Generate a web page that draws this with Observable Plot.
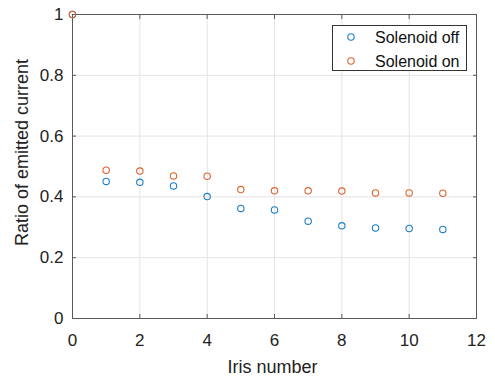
<!DOCTYPE html>
<html>
<head>
<meta charset="utf-8">
<script src="https://cdn.jsdelivr.net/npm/d3@7"></script>
<script src="https://cdn.jsdelivr.net/npm/@observablehq/plot@0.6"></script>
<style>
  html, body { margin: 0; padding: 0; background: #fff; }
  #chart svg { display: block; }
</style>
</head>
<body>
<div id="chart"></div>
<script>
const iris = [0, 1, 2, 3, 4, 5, 6, 7, 8, 9, 10, 11];
const solenoidOff = [1, 0.451, 0.448, 0.436, 0.401, 0.362, 0.357, 0.320, 0.305, 0.298, 0.296, 0.293];
const solenoidOn  = [1, 0.488, 0.485, 0.469, 0.468, 0.424, 0.420, 0.420, 0.419, 0.413, 0.413, 0.412];
const seriesNames = ["Solenoid off", "Solenoid on"];
const seriesColors = ["#1f7fc5", "#dd6530"];
const xTicks = [0, 2, 4, 6, 8, 10, 12];
const yTicks = [0, 0.2, 0.4, 0.6, 0.8, 1];
const xLabel = "Iris number";
const yLabel = "Ratio of emitted current";

const offData = iris.map((x, i) => ({x, y: solenoidOff[i]}));
const onData = iris.map((x, i) => ({x, y: solenoidOn[i]}));

const font = "'Liberation Sans', Arial, Helvetica, sans-serif";
const axisColor = "#5a5a5a";

const plot = Plot.plot({
  width: 495,
  height: 376,
  marginLeft: 72,
  marginRight: 19,
  marginTop: 14,
  marginBottom: 58,
  style: {fontFamily: font, background: "#fff", color: "#222"},
  x: {domain: [0, 12]},
  y: {domain: [0, 1]},
  marks: [
    Plot.gridX(xTicks, {stroke: "#e4e4e4", strokeOpacity: 1}),
    Plot.gridY(yTicks, {stroke: "#e4e4e4", strokeOpacity: 1}),
    Plot.frame({stroke: axisColor, strokeWidth: 1}),
    Plot.axisX({anchor: "bottom", ticks: xTicks, tickSize: -4, tickPadding: 19, tickFormat: d => String(d), fontSize: 17, stroke: axisColor, fill: "#222", label: null}),
    Plot.axisX({anchor: "top", ticks: xTicks, tickSize: -4, tickFormat: () => "", stroke: axisColor, label: null}),
    Plot.axisY({anchor: "left", ticks: yTicks, tickSize: -4, tickPadding: 13, tickFormat: d => String(d), fontSize: 17, stroke: axisColor, fill: "#222", label: null}),
    Plot.axisY({anchor: "right", ticks: yTicks, tickSize: -4, tickFormat: () => "", stroke: axisColor, label: null}),
    Plot.dot(offData, {x: "x", y: "y", r: 3.2, stroke: seriesColors[0], strokeWidth: 1.1, fill: "none"}),
    Plot.dot(onData, {x: "x", y: "y", r: 3.2, stroke: seriesColors[1], strokeWidth: 1.1, fill: "none"}),
    Plot.text([xLabel], {text: d => d, frameAnchor: "bottom", textAnchor: "middle", lineAnchor: "top", dy: 42, dx: -2, fontSize: 18, fill: "#222"}),
    Plot.text([yLabel], {text: d => d, frameAnchor: "left", textAnchor: "middle", rotate: -90, lineAnchor: "middle", dx: -50, dy: -14, fontSize: 18, fill: "#222"})
  ]
});

document.getElementById("chart").appendChild(plot);

// Legend box (inside the axes, top-right), MATLAB style
const svg = d3.select(plot);
const lg = svg.append("g").attr("font-family", font).attr("font-size", 16).attr("text-anchor", "start");
lg.append("rect")
  .attr("x", 332.5).attr("y", 25.5).attr("width", 134).attr("height", 45)
  .attr("fill", "#fff").attr("stroke", "#333").attr("stroke-width", 1);
seriesNames.forEach((name, i) => {
  const cy = 37 + i * 24;
  lg.append("circle").attr("cx", 351).attr("cy", cy).attr("r", 3.2)
    .attr("fill", "none").attr("stroke", seriesColors[i]).attr("stroke-width", 1.1);
  lg.append("text").attr("x", 375).attr("y", cy).attr("dy", "0.35em")
    .attr("text-anchor", "start").attr("fill", "#111").text(name);
});
</script>
</body>
</html>
